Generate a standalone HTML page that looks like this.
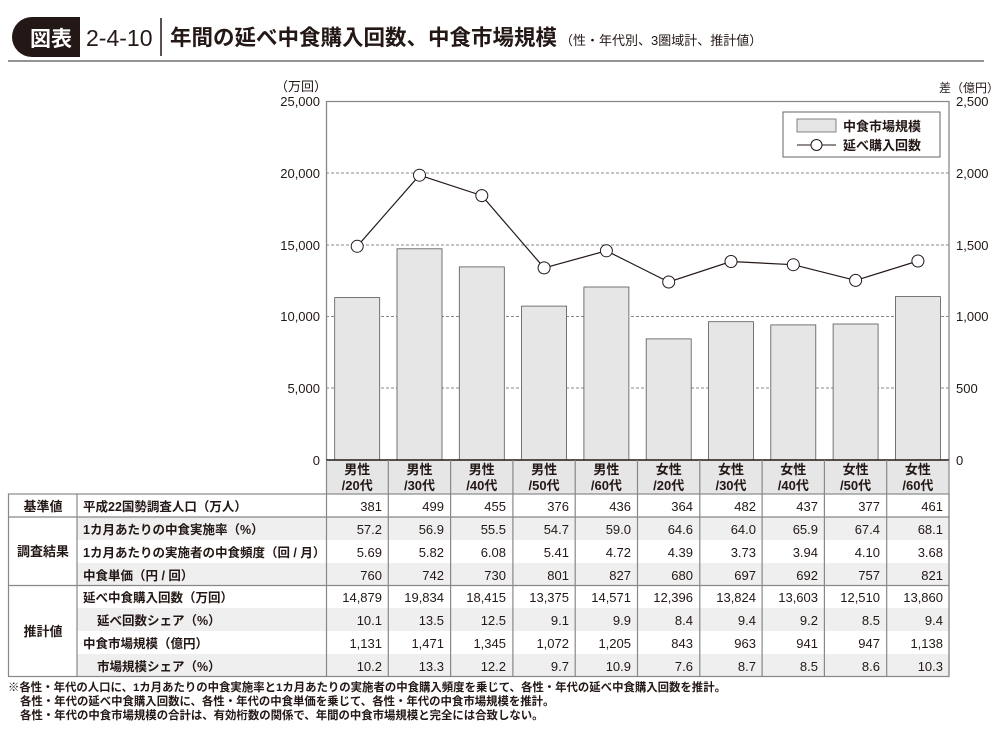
<!DOCTYPE html>
<html><head><meta charset="utf-8"><style>
body{margin:0;background:#fff;}
svg text{font-family:"Liberation Sans","Noto Sans CJK JP",sans-serif;fill:#231815;}
</style></head><body>
<svg width="997" height="736" viewBox="0 0 997 736" xmlns="http://www.w3.org/2000/svg">
<path d="M32 17 H80 V57 H32 A20 20 0 0 1 32 17 Z" fill="#231815"/>
<text x="30" y="46" font-size="21" font-weight="bold" style="fill:#fff">図表</text>
<text x="86" y="46" font-size="23">2-4-10</text>
<line x1="161" y1="18" x2="161" y2="56" stroke="#231815" stroke-width="1.5"/>
<text x="170" y="45" font-size="21.5" font-weight="bold">年間の延べ中食購入回数、中食市場規模</text>
<text x="560" y="45" font-size="13">（性・年代別、3圏域計、推計値）</text>
<line x1="8" y1="61" x2="984" y2="61" stroke="#555" stroke-width="1.2"/>

<text x="301" y="91" font-size="13" text-anchor="middle">（万回）</text>
<text x="939" y="92" font-size="12">差（億円）</text>
<g font-size="13" text-anchor="end">
<text x="320" y="106">25,000</text>
<text x="320" y="178">20,000</text>
<text x="320" y="250">15,000</text>
<text x="320" y="321">10,000</text>
<text x="320" y="393">5,000</text>
<text x="320" y="465">0</text>
</g>
<g font-size="13">
<text x="956" y="106">2,500</text>
<text x="956" y="178">2,000</text>
<text x="956" y="250">1,500</text>
<text x="956" y="321">1,000</text>
<text x="956" y="393">500</text>
<text x="956" y="465">0</text>
</g>
<g stroke="#888" stroke-dasharray="3,2" stroke-width="1">
<line x1="326" y1="173" x2="949" y2="173"/>
<line x1="326" y1="245" x2="949" y2="245"/>
<line x1="326" y1="316.5" x2="949" y2="316.5"/>
<line x1="326" y1="388" x2="949" y2="388"/>
</g>
<path d="M326.5 460 V101.5 H949 V460" fill="none" stroke="#888" stroke-width="1.3"/>
<g fill="#e6e6e6" stroke="#555" stroke-width="0.8">
<rect x="334.7" y="297.6" width="45" height="162.4"/>
<rect x="397" y="248.8" width="45" height="211.2"/>
<rect x="459.3" y="266.9" width="45" height="193.1"/>
<rect x="521.6" y="306.1" width="45" height="153.9"/>
<rect x="583.9" y="287" width="45" height="173"/>
<rect x="646.2" y="338.9" width="45" height="121.1"/>
<rect x="708.5" y="321.7" width="45" height="138.3"/>
<rect x="770.8" y="324.9" width="45" height="135.1"/>
<rect x="833.1" y="324" width="45" height="136"/>
<rect x="895.4" y="296.6" width="45" height="163.4"/>
</g>
<polyline points="357.2,246.3 419.5,175.2 481.8,195.6 544.1,267.9 606.4,250.8 668.7,282 731,261.5 793.3,264.7 855.6,280.4 917.9,261" fill="none" stroke="#231815" stroke-width="1.2"/>
<g fill="#fff" stroke="#231815" stroke-width="1">
<circle cx="357.2" cy="246.3" r="6"/><circle cx="419.5" cy="175.2" r="6"/><circle cx="481.8" cy="195.6" r="6"/>
<circle cx="544.1" cy="267.9" r="6"/><circle cx="606.4" cy="250.8" r="6"/><circle cx="668.7" cy="282" r="6"/>
<circle cx="731" cy="261.5" r="6"/><circle cx="793.3" cy="264.7" r="6"/><circle cx="855.6" cy="280.4" r="6"/>
<circle cx="917.9" cy="261" r="6"/>
</g>
<rect x="783" y="112" width="157" height="45" fill="#fff" stroke="#666" stroke-width="1"/>
<rect x="797" y="119" width="39" height="13" fill="#e6e6e6" stroke="#666" stroke-width="0.8"/>
<text x="843" y="131" font-size="13" font-weight="bold">中食市場規模</text>
<line x1="797" y1="145" x2="836" y2="145" stroke="#231815"/>
<circle cx="816.5" cy="145" r="5.5" fill="#fff" stroke="#231815"/>
<text x="843" y="150" font-size="13" font-weight="bold">延べ購入回数</text>

<rect x="326" y="460" width="623" height="34" fill="#e6e6e6"/>
<g fill="#efefef">
<rect x="77" y="517" width="872" height="23"/>
<rect x="77" y="563" width="872" height="22.5"/>
<rect x="77" y="608" width="872" height="23"/>
<rect x="77" y="654" width="872" height="22.5"/>
</g>
<g stroke="#888" stroke-width="1.2" fill="none">
<line x1="326" y1="460" x2="949" y2="460" stroke="#231815" stroke-width="1.5"/>
<rect x="8.5" y="494" width="940.5" height="182.5"/>
<line x1="8" y1="517" x2="949" y2="517"/>
<line x1="8" y1="585.5" x2="949" y2="585.5"/>
<line x1="77" y1="494" x2="77" y2="676.5"/>
<line x1="326.5" y1="460" x2="326.5" y2="676.5"/>
<line x1="949" y1="460" x2="949" y2="676.5"/>
<line x1="388.3" y1="460" x2="388.3" y2="676.5"/><line x1="450.6" y1="460" x2="450.6" y2="676.5"/>
<line x1="512.9" y1="460" x2="512.9" y2="676.5"/><line x1="575.2" y1="460" x2="575.2" y2="676.5"/>
<line x1="637.5" y1="460" x2="637.5" y2="676.5"/><line x1="699.8" y1="460" x2="699.8" y2="676.5"/>
<line x1="762.1" y1="460" x2="762.1" y2="676.5"/><line x1="824.4" y1="460" x2="824.4" y2="676.5"/>
<line x1="886.7" y1="460" x2="886.7" y2="676.5"/>
</g>
<g font-size="13" font-weight="bold" text-anchor="middle">
<text x="357.2" y="474">男性</text><text x="357.2" y="490">/20代</text>
<text x="419.5" y="474">男性</text><text x="419.5" y="490">/30代</text>
<text x="481.8" y="474">男性</text><text x="481.8" y="490">/40代</text>
<text x="544.1" y="474">男性</text><text x="544.1" y="490">/50代</text>
<text x="606.4" y="474">男性</text><text x="606.4" y="490">/60代</text>
<text x="668.7" y="474">女性</text><text x="668.7" y="490">/20代</text>
<text x="731" y="474">女性</text><text x="731" y="490">/30代</text>
<text x="793.3" y="474">女性</text><text x="793.3" y="490">/40代</text>
<text x="855.6" y="474">女性</text><text x="855.6" y="490">/50代</text>
<text x="917.9" y="474">女性</text><text x="917.9" y="490">/60代</text>
</g>
<g font-size="13" font-weight="bold" text-anchor="middle">
<text x="43" y="511">基準値</text>
<text x="43" y="556">調査結果</text>
<text x="43" y="636">推計値</text>
</g>
<g font-size="12.5" font-weight="bold">
<text x="83" y="511">平成22国勢調査人口（万人）</text>
<text x="83" y="534">1カ月あたりの中食実施率（%）</text>
<text x="83" y="557">1カ月あたりの実施者の中食頻度（回 / 月）</text>
<text x="83" y="580">中食単価（円 / 回）</text>
<text x="83" y="602">延べ中食購入回数（万回）</text>
<text x="97" y="625">延べ回数シェア（%）</text>
<text x="83" y="648">中食市場規模（億円）</text>
<text x="97" y="671">市場規模シェア（%）</text>
</g>
<g font-size="13" text-anchor="end">
<text y="511"><tspan x="382">381</tspan><tspan x="444">499</tspan><tspan x="506">455</tspan><tspan x="569">376</tspan><tspan x="631">436</tspan><tspan x="693">364</tspan><tspan x="756">482</tspan><tspan x="818">437</tspan><tspan x="880">377</tspan><tspan x="943">461</tspan></text>
<text y="534"><tspan x="382">57.2</tspan><tspan x="444">56.9</tspan><tspan x="506">55.5</tspan><tspan x="569">54.7</tspan><tspan x="631">59.0</tspan><tspan x="693">64.6</tspan><tspan x="756">64.0</tspan><tspan x="818">65.9</tspan><tspan x="880">67.4</tspan><tspan x="943">68.1</tspan></text>
<text y="557"><tspan x="382">5.69</tspan><tspan x="444">5.82</tspan><tspan x="506">6.08</tspan><tspan x="569">5.41</tspan><tspan x="631">4.72</tspan><tspan x="693">4.39</tspan><tspan x="756">3.73</tspan><tspan x="818">3.94</tspan><tspan x="880">4.10</tspan><tspan x="943">3.68</tspan></text>
<text y="580"><tspan x="382">760</tspan><tspan x="444">742</tspan><tspan x="506">730</tspan><tspan x="569">801</tspan><tspan x="631">827</tspan><tspan x="693">680</tspan><tspan x="756">697</tspan><tspan x="818">692</tspan><tspan x="880">757</tspan><tspan x="943">821</tspan></text>
<text y="602"><tspan x="382">14,879</tspan><tspan x="444">19,834</tspan><tspan x="506">18,415</tspan><tspan x="569">13,375</tspan><tspan x="631">14,571</tspan><tspan x="693">12,396</tspan><tspan x="756">13,824</tspan><tspan x="818">13,603</tspan><tspan x="880">12,510</tspan><tspan x="943">13,860</tspan></text>
<text y="625"><tspan x="382">10.1</tspan><tspan x="444">13.5</tspan><tspan x="506">12.5</tspan><tspan x="569">9.1</tspan><tspan x="631">9.9</tspan><tspan x="693">8.4</tspan><tspan x="756">9.4</tspan><tspan x="818">9.2</tspan><tspan x="880">8.5</tspan><tspan x="943">9.4</tspan></text>
<text y="648"><tspan x="382">1,131</tspan><tspan x="444">1,471</tspan><tspan x="506">1,345</tspan><tspan x="569">1,072</tspan><tspan x="631">1,205</tspan><tspan x="693">843</tspan><tspan x="756">963</tspan><tspan x="818">941</tspan><tspan x="880">947</tspan><tspan x="943">1,138</tspan></text>
<text y="671"><tspan x="382">10.2</tspan><tspan x="444">13.3</tspan><tspan x="506">12.2</tspan><tspan x="569">9.7</tspan><tspan x="631">10.9</tspan><tspan x="693">7.6</tspan><tspan x="756">8.7</tspan><tspan x="818">8.5</tspan><tspan x="880">8.6</tspan><tspan x="943">10.3</tspan></text>
</g>
<g font-size="11.4" font-weight="bold">
<text x="8" y="691">※各性・年代の人口に、1カ月あたりの中食実施率と1カ月あたりの実施者の中食購入頻度を乗じて、各性・年代の延べ中食購入回数を推計。</text>
<text x="20" y="705">各性・年代の延べ中食購入回数に、各性・年代の中食単価を乗じて、各性・年代の中食市場規模を推計。</text>
<text x="20" y="719">各性・年代の中食市場規模の合計は、有効桁数の関係で、年間の中食市場規模と完全には合致しない。</text>
</g>
</svg>
</body></html>
